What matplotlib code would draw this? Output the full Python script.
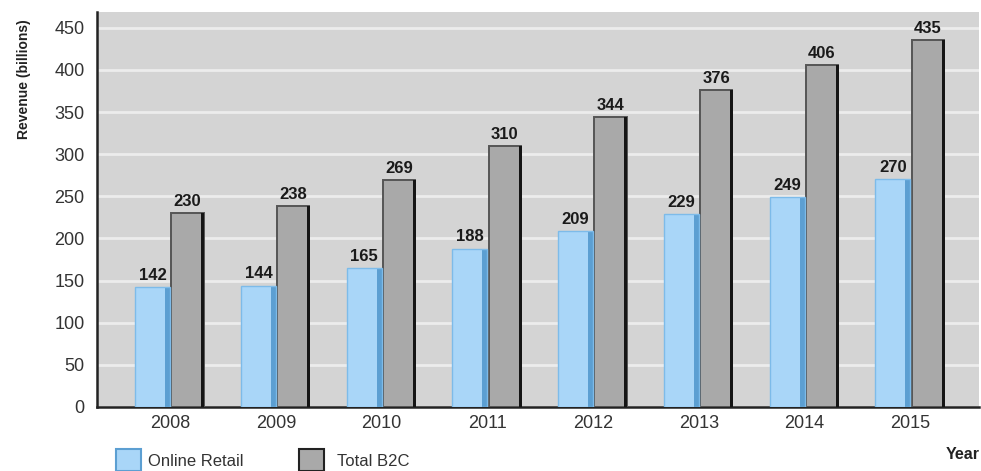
import numpy as np
import matplotlib.pyplot as plt
from matplotlib.patches import Rectangle

years = ['2008', '2009', '2010', '2011', '2012', '2013', '2014', '2015']
online_retail = [142, 144, 165, 188, 209, 229, 249, 270]
total_b2c = [230, 238, 269, 310, 344, 376, 406, 435]
yticks = [0, 50, 100, 150, 200, 250, 300, 350, 400, 450]

plt.rcParams['font.family'] = ['Liberation Sans', 'DejaVu Sans']

fig = plt.figure(figsize=(9.81, 4.71), dpi=100)
ax = fig.add_axes([0.099, 0.136, 0.899, 0.839])
ax.set_facecolor('#d4d4d4')

x = np.arange(len(years))
w = 0.33

# online retail: light blue body, darker strip on the right side, thin top line
ax.bar(x - w / 2, online_retail, w, color='#a9d6f8', edgecolor='none', zorder=3)
ax.bar(x - w * 0.07, online_retail, w * 0.14, color='#5c9fd2', edgecolor='none', zorder=4)
ax.bar(x - w / 2, online_retail, w, color='none', edgecolor='#7dbbe9', lw=1.0, zorder=4)

# total b2c: gray with dark outline, thick black right edge
ax.bar(x + w / 2, total_b2c, w * 0.92, color='#a9a9a9', edgecolor='#555555', lw=1.4, zorder=3)
ax.bar(x + w - w * 0.06, total_b2c, w * 0.08, color='#151515', edgecolor='none', zorder=4)

for i in range(len(years)):
    ax.text(x[i] - w / 2, online_retail[i] + 5, str(online_retail[i]), ha='center', va='bottom',
            fontsize=12, fontweight='bold', color='#1a1a1a', zorder=5)
    ax.text(x[i] + w / 2, total_b2c[i] + 5, str(total_b2c[i]), ha='center', va='bottom',
            fontsize=12, fontweight='bold', color='#1a1a1a', zorder=5)

ax.set_xlim(-0.69, 7.65)
ax.set_ylim(0, 469)
ax.set_yticks(yticks)
ax.set_xticks(x)
ax.set_xticklabels(years)
ax.yaxis.grid(True, color='#ececec', lw=2, zorder=1)
ax.set_axisbelow(True)
ax.tick_params(length=0, labelsize=13, labelcolor='#333333')
ax.tick_params(axis='y', pad=9)
ax.tick_params(axis='x', pad=6)
for s in ['top', 'right']:
    ax.spines[s].set_visible(False)
for s in ['left', 'bottom']:
    ax.spines[s].set_linewidth(1.8)
    ax.spines[s].set_color('#222222')

ax.set_ylabel('Revenue (billions)', fontsize=10, fontweight='bold', color='#222222')
ax.yaxis.set_label_coords(-0.075, 0.83)

fig.text(0.999, 0.035, 'Year', fontsize=11.5, fontweight='bold', color='#222222', ha='right', va='center')

# legend at the bottom
fig.patches.append(Rectangle((116 / 981, 0.0), 25 / 981, 22 / 471, transform=fig.transFigure,
                             facecolor='#a9d6f8', edgecolor='#5c9fd2', lw=1.5))
fig.text(148 / 981, 1 - 461 / 471, 'Online Retail', fontsize=12, color='#333333', va='center')
fig.patches.append(Rectangle((299 / 981, 0.0), 25 / 981, 22 / 471, transform=fig.transFigure,
                             facecolor='#a9a9a9', edgecolor='#222222', lw=1.5))
fig.text(337 / 981, 1 - 461 / 471, 'Total B2C', fontsize=12, color='#333333', va='center')

fig.savefig('out.png', dpi=100)
